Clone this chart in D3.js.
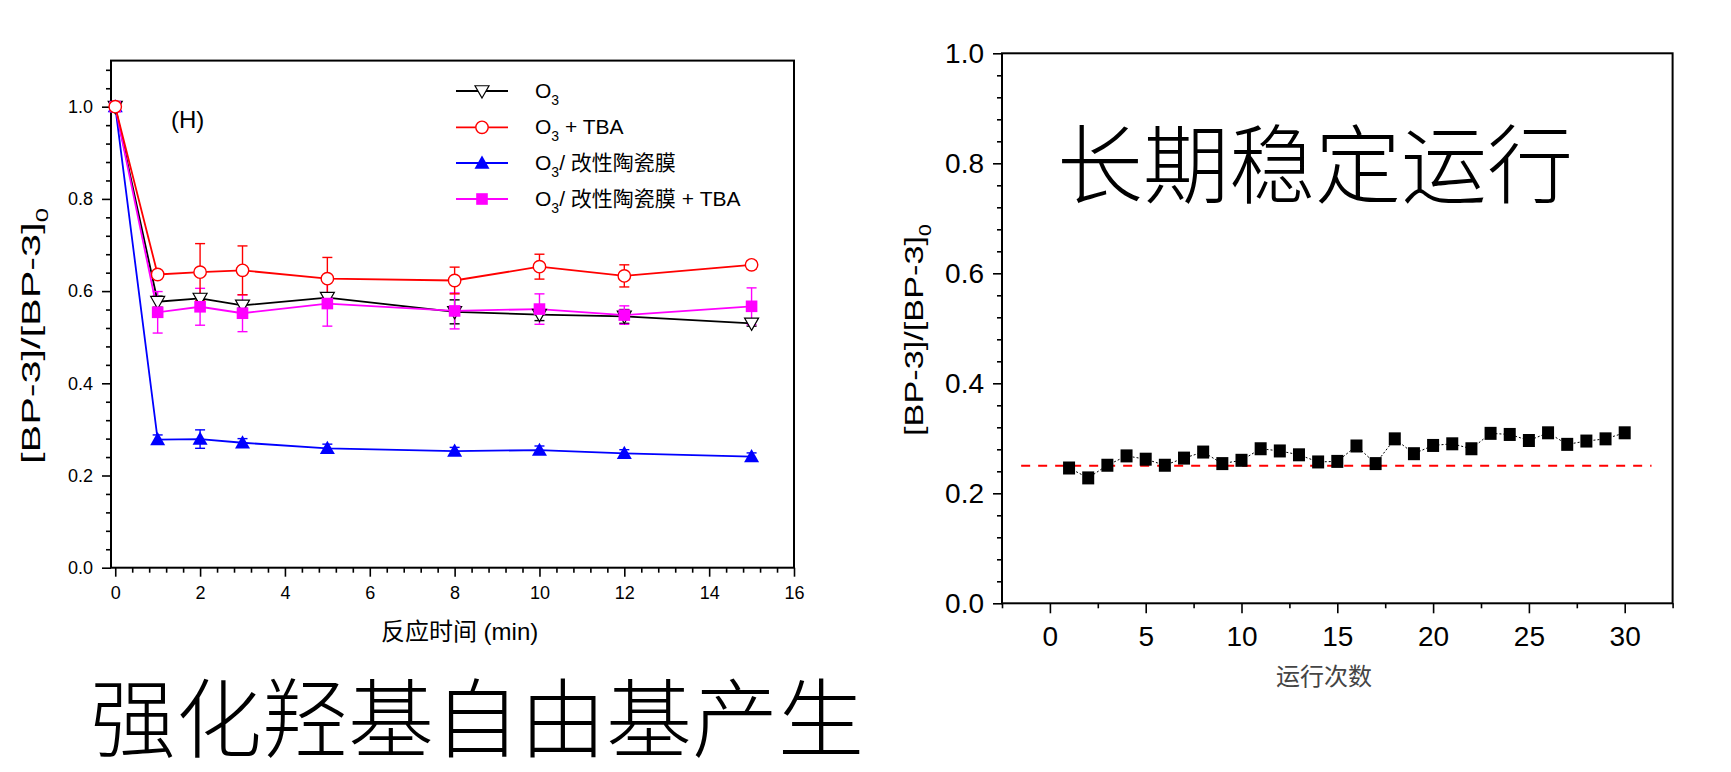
<!DOCTYPE html>
<html><head><meta charset="utf-8">
<script src="https://cdn.jsdelivr.net/npm/d3@7/dist/d3.min.js"></script>
<style>
html,body{margin:0;padding:0;background:#fff;}
svg text{font-family:"Liberation Sans",Arial,"Noto Sans CJK SC",sans-serif;}
</style></head>
<body>
<svg id="c" width="1731" height="772"></svg>
<script>
// ---------- data: left chart ----------
const timeMin = [0, 1, 2, 3, 5, 8, 10, 12, 15];
const o3 = [1.0, 0.577, 0.584, 0.569, 0.586, 0.555, 0.549, 0.545, 0.530];
const o3Err = [0, 0.012, 0.010, 0.006, 0.010, 0.026, 0.013, 0.015, 0.006];
const o3Tba = [1.0, 0.636, 0.641, 0.645, 0.627, 0.623, 0.653, 0.633, 0.657];
const o3TbaErr = [0, 0.008, 0.062, 0.053, 0.046, 0.029, 0.027, 0.024, 0.009];
const o3Mem = [1.0, 0.278, 0.279, 0.271, 0.259, 0.253, 0.255, 0.248, 0.241];
const o3MemErr = [0, 0.010, 0.020, 0.009, 0.009, 0.008, 0.009, 0.008, 0.008];
const o3MemTba = [1.0, 0.554, 0.566, 0.552, 0.573, 0.557, 0.561, 0.548, 0.567];
const o3MemTbaErr = [0, 0.045, 0.040, 0.040, 0.049, 0.039, 0.033, 0.020, 0.040];
const leftXTicks = [0, 2, 4, 6, 8, 10, 12, 14, 16];
const leftYTicks = [0.0, 0.2, 0.4, 0.6, 0.8, 1.0];
const seriesNames = ["O3", "O3 + TBA", "O3/ 改性陶瓷膜", "O3/ 改性陶瓷膜 + TBA"];
const seriesColors = ["#000000", "#ff0000", "#0000ff", "#ff00ff"];

// ---------- data: right chart ----------
const runs = [1,2,3,4,5,6,7,8,9,10,11,12,13,14,15,16,17,18,19,20,21,22,23,24,25,26,27,28,29,30];
const runValues = [0.246,0.228,0.251,0.268,0.262,0.251,0.264,0.275,0.254,0.260,
                   0.281,0.277,0.270,0.257,0.258,0.286,0.254,0.299,0.272,0.287,
                   0.290,0.281,0.309,0.307,0.296,0.310,0.289,0.295,0.299,0.310];
const refLevel = 0.25;
const refRange = [-1.5, 31.4];
const rightXTicks = [0, 5, 10, 15, 20, 25, 30];
const rightYTicks = [0.0, 0.2, 0.4, 0.6, 0.8, 1.0];

const svg = d3.select("#c");

// ================= LEFT CHART =================
const L = {x0: 111, x1: 794, y0: 567.7, y1: 60.6};
const lx = d3.scaleLinear().domain([-0.1, 16]).range([L.x0, L.x1]);
const ly = d3.scaleLinear().domain([0, 1.1]).range([L.y0, L.y1]);
const gl = svg.append("g");

function styleAxis(g, fs) {
  g.select(".domain").remove();
  g.selectAll("line").attr("stroke", "#000").attr("stroke-width", 1.6);
  g.selectAll("text").attr("fill", "#000").style("font-size", fs + "px")
    .style("font-family", "'Liberation Sans', Arial, sans-serif");
}
const lxMinor = d3.range(0, 16.001, 0.4).filter(v => Math.abs(v / 2 - Math.round(v / 2)) > 1e-6);
const lyMinor = d3.range(0, 1.1001, 0.04).map(v => +v.toFixed(2)).filter(v => Math.abs(v / 0.2 - Math.round(v / 0.2)) > 1e-6);
gl.append("g").attr("transform", `translate(0,${L.y0})`)
  .call(d3.axisBottom(lx).tickValues(lxMinor).tickSize(5).tickFormat(""))
  .call(g => styleAxis(g, 18));
gl.append("g").attr("transform", `translate(${L.x0},0)`)
  .call(d3.axisLeft(ly).tickValues(lyMinor).tickSize(5).tickFormat(""))
  .call(g => styleAxis(g, 18));
gl.append("g").attr("transform", `translate(0,${L.y0})`)
  .call(d3.axisBottom(lx).tickValues(leftXTicks).tickSize(9).tickPadding(10).tickFormat(d3.format("d")))
  .call(g => styleAxis(g, 18));
gl.append("g").attr("transform", `translate(${L.x0},0)`)
  .call(d3.axisLeft(ly).tickValues(leftYTicks).tickSize(9).tickPadding(9).tickFormat(d3.format(".1f")))
  .call(g => styleAxis(g, 18));
gl.append("rect").attr("x", L.x0).attr("y", L.y1).attr("width", L.x1 - L.x0).attr("height", L.y0 - L.y1)
  .attr("fill", "none").attr("stroke", "#000").attr("stroke-width", 2);

const leftSeries = [
  {v: o3, e: o3Err, sym: "tri-down"},
  {v: o3Tba, e: o3TbaErr, sym: "circle"},
  {v: o3Mem, e: o3MemErr, sym: "tri-up"},
  {v: o3MemTba, e: o3MemTbaErr, sym: "square"}
];
function drawSymbol(g, sym, cx, cy, color) {
  if (sym === "circle") {
    g.append("circle").attr("cx", cx).attr("cy", cy).attr("r", 6.2)
      .attr("fill", "#fff").attr("stroke", color).attr("stroke-width", 1.4);
  } else if (sym === "square") {
    g.append("rect").attr("x", cx - 5.8).attr("y", cy - 5.8).attr("width", 11.6).attr("height", 11.6)
      .attr("fill", color);
  } else if (sym === "tri-up") {
    const s = 7.5;
    g.append("path").attr("d", `M${cx},${cy - s}L${cx + s},${cy + s * 0.75}L${cx - s},${cy + s * 0.75}Z`)
      .attr("fill", color);
  } else {
    const s = 7;
    g.append("path").attr("d", `M${cx},${cy + s}L${cx + s},${cy - s * 0.75}L${cx - s},${cy - s * 0.75}Z`)
      .attr("fill", "#fff").attr("stroke", color).attr("stroke-width", 1.2);
  }
}
const lineGen = d3.line().x((d, i) => lx(timeMin[i])).y(d => ly(d));
const order = [2, 0, 3, 1];
order.forEach(k => {
  const s = leftSeries[k], col = seriesColors[k];
  const g = gl.append("g");
  s.v.forEach((v, i) => {
    if (!s.e[i]) return;
    const x = lx(timeMin[i]);
    g.append("line").attr("x1", x).attr("x2", x).attr("y1", ly(v - s.e[i])).attr("y2", ly(v + s.e[i]))
      .attr("stroke", col).attr("stroke-width", 1.4);
    [v - s.e[i], v + s.e[i]].forEach(t => g.append("line").attr("x1", x - 5).attr("x2", x + 5)
      .attr("y1", ly(t)).attr("y2", ly(t)).attr("stroke", col).attr("stroke-width", 1.4));
  });
  g.append("path").datum(s.v).attr("d", lineGen).attr("fill", "none")
    .attr("stroke", col).attr("stroke-width", 1.8);
});
order.forEach(k => {
  const s = leftSeries[k], col = seriesColors[k];
  const g = gl.append("g");
  s.v.forEach((v, i) => drawSymbol(g, s.sym, lx(timeMin[i]), ly(v), col));
});

// (H)
gl.append("text").attr("x", 171).attr("y", 128).style("font-size", "24px").text("(H)");

// legend
const legY = [98, 134.3, 170, 206];
leftSeries.forEach((s, k) => {
  const g = gl.append("g");
  const cy = legY[k] - 7;
  g.append("line").attr("x1", 456).attr("x2", 508).attr("y1", cy).attr("y2", cy)
    .attr("stroke", seriesColors[k]).attr("stroke-width", 1.8);
  drawSymbol(g, s.sym, 482, cy, seriesColors[k]);
  const name = seriesNames[k];
  const t = g.append("text").attr("x", 535).attr("y", legY[k]).style("font-size", "21px").attr("fill", "#000");
  t.append("tspan").text("O");
  t.append("tspan").attr("dy", 7).style("font-size", "14px").text("3");
  t.append("tspan").attr("dy", -7).text(name.slice(2));
});

// axis titles
const xt = gl.append("text").attr("x", (lx(0) + lx(16)) / 2 + 5).attr("y", 640).attr("text-anchor", "middle")
  .style("font-size", "24px");
xt.append("tspan").style("font-family", "'Noto Sans CJK SC',sans-serif").text("反应时间");
xt.append("tspan").style("font-family", "'Liberation Sans',Arial,sans-serif").text(" (min)");

function yTitle(g, cx, cy, fs, targetLen) {
  const grp = g.append("g").attr("transform", `translate(${cx},${cy}) rotate(-90)`);
  const inner = grp.append("g");
  const t = inner.append("text").attr("x", 0).attr("y", fs * 0.36).attr("text-anchor", "middle")
    .style("font-size", fs + "px");
  t.append("tspan").text("[BP-3]/[BP-3]");
  t.append("tspan").attr("dy", fs * 0.3).style("font-size", (fs * 0.62) + "px").text("0");
  const w = t.node().getComputedTextLength();
  inner.attr("transform", `scale(${targetLen / w},1)`);
}
yTitle(gl, 31, 336, 26, 256);

// ================= RIGHT CHART =================
const R = {x0: 1002, x1: 1672.6, y0: 603.3, y1: 53.3};
const rx = d3.scaleLinear().domain([-2.5, 32.5]).range([R.x0, R.x1]);
const ry = d3.scaleLinear().domain([0, 1]).range([R.y0, R.y1]);
const gr = svg.append("g");
const rxMinor = d3.range(-2.5, 32.6, 5);
const ryMinor = d3.range(0, 1.0001, 0.04).map(v => +v.toFixed(2)).filter(v => Math.abs(v / 0.2 - Math.round(v / 0.2)) > 1e-6);
gr.append("g").attr("transform", `translate(0,${R.y0})`)
  .call(d3.axisBottom(rx).tickValues(rxMinor).tickSize(5).tickFormat(""))
  .call(g => styleAxis(g, 28));
gr.append("g").attr("transform", `translate(${R.x0},0)`)
  .call(d3.axisLeft(ry).tickValues(ryMinor).tickSize(5).tickFormat(""))
  .call(g => styleAxis(g, 28));
gr.append("g").attr("transform", `translate(0,${R.y0})`)
  .call(d3.axisBottom(rx).tickValues(rightXTicks).tickSize(10).tickPadding(13).tickFormat(d3.format("d")))
  .call(g => styleAxis(g, 28));
gr.append("g").attr("transform", `translate(${R.x0},0)`)
  .call(d3.axisLeft(ry).tickValues(rightYTicks).tickSize(9).tickPadding(9).tickFormat(d3.format(".1f")))
  .call(g => styleAxis(g, 28));
gr.append("rect").attr("x", R.x0).attr("y", R.y1).attr("width", R.x1 - R.x0).attr("height", R.y0 - R.y1)
  .attr("fill", "none").attr("stroke", "#000").attr("stroke-width", 2);

gr.append("line").attr("x1", rx(refRange[0])).attr("x2", rx(refRange[1]))
  .attr("y1", ry(refLevel)).attr("y2", ry(refLevel))
  .attr("stroke", "#ff0000").attr("stroke-width", 2).attr("stroke-dasharray", "9,8");
gr.append("path").datum(runValues)
  .attr("d", d3.line().x((d, i) => rx(runs[i])).y(d => ry(d)))
  .attr("fill", "none").attr("stroke", "#000").attr("stroke-width", 1).attr("stroke-dasharray", "2,2");
gr.selectAll("rect.pt").data(runValues).enter().append("rect").attr("class", "pt")
  .attr("x", (d, i) => rx(runs[i]) - 6).attr("y", d => ry(d) - 6.5)
  .attr("width", 12).attr("height", 13).attr("fill", "#000");

gr.append("text").attr("x", 1324).attr("y", 685).attr("text-anchor", "middle")
  .style("font-size", "24px").style("font-family", "'Noto Sans CJK SC',sans-serif").attr("fill", "#444")
  .text("运行次数");
yTitle(gr, 914, 330, 26, 212);

// big captions
svg.append("text").attr("x", 1315).attr("y", 159).attr("text-anchor", "middle")
  .attr("dominant-baseline", "central")
  .style("font-size", "86px").style("font-family", "'Noto Sans CJK SC',serif").style("font-weight", 300)
  .text("长期稳定运行");
svg.append("text").attr("x", 477).attr("y", 713).attr("text-anchor", "middle")
  .attr("dominant-baseline", "central")
  .style("font-size", "86px").style("font-family", "'Noto Sans CJK SC',serif").style("font-weight", 300)
  .text("强化羟基自由基产生");
</script>
</body></html>
